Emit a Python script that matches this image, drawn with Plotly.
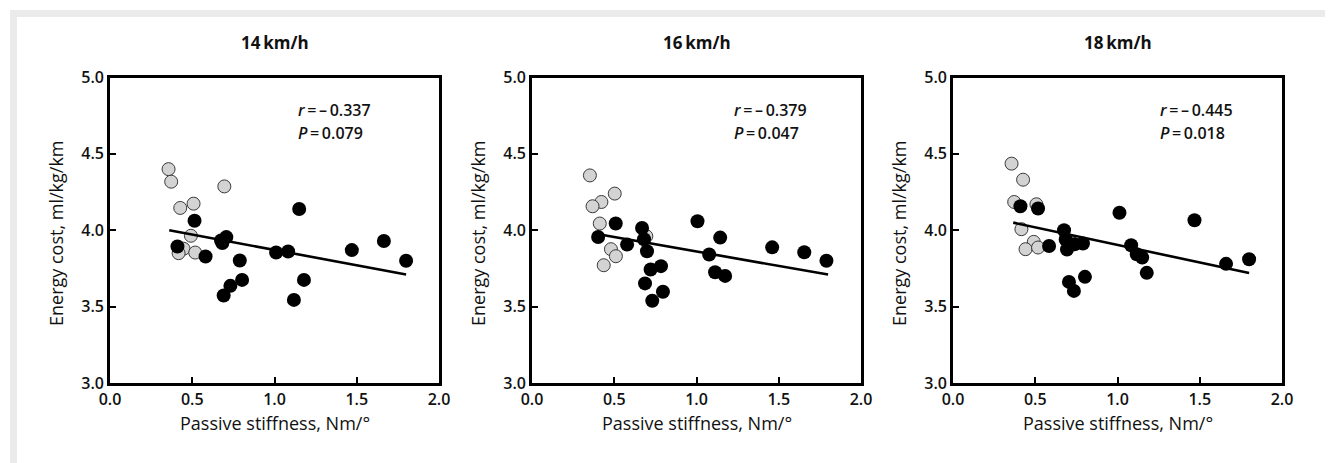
import plotly.graph_objects as go

# page offset (browser body margin) and figure size
OFF = 8
W, H = 1333 - OFF, 463 - OFF

titles = ["14\u2009km/h", "16\u2009km/h", "18\u2009km/h"]
r_text = ["\u2013\u20090.337", "\u2013\u20090.379", "\u2013\u20090.445"]
p_text = ["0.079", "0.047", "0.018"]

# Panel 1 (14 km/h)
gray_x_14 = [0.356, 0.372, 0.427, 0.508, 0.695, 0.492, 0.447, 0.417, 0.518]
gray_y_14 = [4.40, 4.318, 4.146, 4.174, 4.287, 3.964, 3.879, 3.850, 3.854]
black_x_14 = [0.514, 0.41, 0.581, 0.675, 0.707, 0.683, 0.789, 0.803, 0.732, 0.691,
              1.010, 1.083, 1.15, 1.179, 1.118, 1.47, 1.665, 1.80]
black_y_14 = [4.062, 3.894, 3.828, 3.933, 3.955, 3.916, 3.802, 3.675, 3.636, 3.573,
              3.854, 3.861, 4.139, 3.675, 3.544, 3.87, 3.93, 3.80]
fit_x_14 = [0.36, 1.80]
fit_y_14 = [4.00, 3.71]

# Panel 2 (16 km/h)
gray_x_16 = [0.352, 0.503, 0.422, 0.368, 0.412, 0.695, 0.480, 0.510, 0.436]
gray_y_16 = [4.359, 4.240, 4.185, 4.157, 4.044, 3.961, 3.876, 3.830, 3.771]
black_x_16 = [0.509, 0.402, 0.578, 0.669, 0.681, 0.699, 0.721, 0.784, 0.687, 0.796,
              0.731, 1.006, 1.144, 1.077, 1.113, 1.174, 1.46, 1.655, 1.79]
black_y_16 = [4.044, 3.956, 3.906, 4.015, 3.941, 3.863, 3.743, 3.765, 3.652, 3.597,
              3.538, 4.059, 3.952, 3.841, 3.725, 3.701, 3.888, 3.856, 3.80]
fit_x_16 = [0.37, 1.80]
fit_y_16 = [3.98, 3.71]

# Panel 3 (18 km/h)
gray_x_18 = [0.356, 0.426, 0.372, 0.507, 0.416, 0.491, 0.441, 0.517, 0.72]
gray_y_18 = [4.436, 4.331, 4.185, 4.170, 4.007, 3.924, 3.876, 3.887, 3.92]
black_x_18 = [0.410, 0.517, 0.584, 0.675, 0.685, 0.693, 0.739, 0.790, 0.705, 0.735,
              0.802, 1.012, 1.083, 1.117, 1.15, 1.178, 1.468, 1.66, 1.80]
black_y_18 = [4.157, 4.142, 3.897, 4.0, 3.939, 3.874, 3.908, 3.913, 3.662, 3.603,
              3.695, 4.115, 3.902, 3.843, 3.822, 3.721, 4.065, 3.78, 3.81]
fit_x_18 = [0.366, 1.80]
fit_y_18 = [4.05, 3.72]

x_ticks = [0.0, 0.5, 1.0, 1.5, 2.0]
x_tick_labels = ["0.0", "0.5", "1.0", "1.5", "2.0"]
y_ticks = [3.0, 3.5, 4.0, 4.5, 5.0]
y_tick_labels = ["3.0", "3.5", "4.0", "4.5", "5.0"]

x_title = "Passive stiffness, Nm/°"
y_title = "Energy cost, ml/kg/km"

panels = [
    (gray_x_14, gray_y_14, black_x_14, black_y_14, fit_x_14, fit_y_14),
    (gray_x_16, gray_y_16, black_x_16, black_y_16, fit_x_16, fit_y_16),
    (gray_x_18, gray_y_18, black_x_18, black_y_18, fit_x_18, fit_y_18),
]
ann_x = [1.13, 1.215, 1.245]

# pixel layout (screen coordinates)
left_px = [110, 532, 953]
width_px = 329
top_px, bottom_px = 77.5, 383


def pxx(v):
    return (v - OFF) / W


def pxy(v):
    return 1 - (v - OFF) / H


FONT = "Open Sans"
fig = go.Figure()
annotations = []
shapes = []

for i, (gx, gy, bx, by, fx, fy) in enumerate(panels):
    n = "" if i == 0 else str(i + 1)
    xa, ya = "x" + n, "y" + n
    fig.add_trace(go.Scatter(x=gx, y=gy, mode="markers", xaxis=xa, yaxis=ya,
                             marker=dict(size=13, color="#d3d3d3",
                                         line=dict(color="#3a3a3a", width=1)),
                             showlegend=False, hoverinfo="skip"))
    fig.add_trace(go.Scatter(x=bx, y=by, mode="markers", xaxis=xa, yaxis=ya,
                             marker=dict(size=14, color="#000000",
                                         line=dict(color="#000000", width=0)),
                             showlegend=False, hoverinfo="skip"))
    fig.add_trace(go.Scatter(x=fx, y=fy, mode="lines", xaxis=xa, yaxis=ya,
                             line=dict(color="#000000", width=2.6),
                             showlegend=False, hoverinfo="skip"))
    l = left_px[i]
    r = l + width_px
    axis_common = dict(showgrid=False, zeroline=False, showline=True, automargin=False,
                       linecolor="#000000", linewidth=2.6, mirror=True,
                       ticks="inside", ticklen=6, tickwidth=2.2, tickcolor="#000000",
                       tickfont=dict(family=FONT, size=16, color="#111111", weight=600),
                       fixedrange=True)
    fig.update_layout(**{
        "xaxis" + n: dict(domain=[pxx(l), pxx(r)], range=[0, 2], anchor=ya,
                          tickmode="array", tickvals=x_ticks, ticktext=x_tick_labels,
                          **axis_common),
        "yaxis" + n: dict(domain=[pxy(bottom_px), pxy(top_px)], range=[3, 5], anchor=xa,
                          tickmode="array", tickvals=y_ticks, ticktext=y_tick_labels,
                          **axis_common),
    })
    cx = (l + r) / 2
    annotations.append(dict(x=pxx(cx), y=pxy(43), xref="paper", yref="paper",
                            xanchor="center", yanchor="middle",
                            text=titles[i], showarrow=False,
                            font=dict(family=FONT, size=17, color="#111111", weight=700)))
    annotations.append(dict(x=pxx(cx), y=pxy(423), xref="paper", yref="paper",
                            xanchor="center", yanchor="middle",
                            text=x_title, showarrow=False,
                            font=dict(family=FONT, size=18, color="#111111")))
    annotations.append(dict(x=pxx(l - 54), y=pxy(233), xref="paper", yref="paper",
                            xanchor="center", yanchor="middle",
                            text=y_title, showarrow=False, textangle=-90,
                            font=dict(family=FONT, size=18, color="#111111")))
    annotations.append(dict(x=ann_x[i], y=4.785, xref=xa, yref=ya,
                            xanchor="left", yanchor="middle",
                            text="<i>r</i>\u2009=\u2009" + r_text[i], showarrow=False,
                            font=dict(family=FONT, size=16, color="#111111", weight=600)))
    annotations.append(dict(x=ann_x[i], y=4.635, xref=xa, yref=ya,
                            xanchor="left", yanchor="middle",
                            text="<i>P</i>\u2009=\u2009" + p_text[i], showarrow=False,
                            font=dict(family=FONT, size=16, color="#111111", weight=600)))

# light gray frame
frame = "#ebebeb"
for (x0, y0, x1, y1) in [(10, 10, 17, 470), (10, 10, 1332, 17), (1325, 10, 1332, 470)]:
    shapes.append(dict(type="rect", xref="paper", yref="paper", layer="below",
                       x0=pxx(x0), x1=pxx(x1), y0=pxy(y1), y1=pxy(y0),
                       fillcolor=frame, line=dict(width=0)))

fig.update_layout(width=W, height=H, margin=dict(l=0, r=0, t=0, b=0, autoexpand=False),
                  paper_bgcolor="white", plot_bgcolor="white",
                  annotations=annotations, shapes=shapes,
                  font=dict(family=FONT))
fig.write_html("out.html")
